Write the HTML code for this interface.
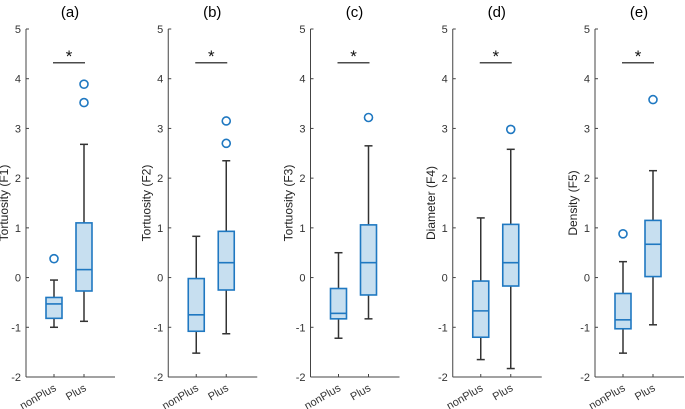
<!DOCTYPE html>
<html><head><meta charset="utf-8"><style>
html,body{margin:0;padding:0;background:#fff;}
svg{display:block;font-family:"Liberation Sans",Arial,sans-serif;}
</style></head><body>
<svg id="chart" width="685" height="409" viewBox="0 0 685 409"></svg>
<script>
const panelLetters = ["(a)","(b)","(c)","(d)","(e)"];
const yTitles = ["Tortuosity (F1)","Tortuosity (F2)","Tortuosity (F3)","Diameter (F4)","Density (F5)"];
const categories = ["nonPlus","Plus"];
const yTicks = [-2,-1,0,1,2,3,4,5];
// each: [lowerWhisker, q1, median, q3, upperWhisker]
const nonPlusStats = [
  [-1.0,-0.82,-0.53,-0.4,-0.05],
  [-1.52,-1.08,-0.75,-0.02,0.83],
  [-1.22,-0.83,-0.72,-0.22,0.5],
  [-1.65,-1.2,-0.67,-0.07,1.2],
  [-1.52,-1.03,-0.85,-0.32,0.32]
];
const plusStats = [
  [-0.88,-0.27,0.16,1.1,2.68],
  [-1.13,-0.25,0.3,0.93,2.35],
  [-0.83,-0.35,0.3,1.06,2.65],
  [-1.83,-0.17,0.3,1.07,2.58],
  [-0.95,0.02,0.67,1.15,2.15]
];
const nonPlusOutliers = [[0.38],[],[],[],[0.88]];
const plusOutliers = [[3.52,3.89],[2.7,3.15],[3.22],[2.98],[3.58]];
const sigLevel = [4.32,4.32,4.32,4.32,4.32];

const svg = document.getElementById('chart');
const NS = 'http://www.w3.org/2000/svg';
function mk(tag, attrs, parent){
  const e = document.createElementNS(NS, tag);
  for (const k in attrs) e.setAttribute(k, attrs[k]);
  (parent||svg).appendChild(e);
  return e;
}
const yTop = 29, yBot = 377, yMin = -2, yMax = 5;
function yS(v){ return yBot - (v - yMin) / (yMax - yMin) * (yBot - yTop); }
const axisX0 = 26, panelStep = 142.25, axisW = 89;
const catOffsets = [28, 58];
const boxW = 16;
const blue = '#1f78c1', fill = '#c7dff0', dark = '#333';

for (let p = 0; p < 5; p++) {
  const ax = axisX0 + p * panelStep;
  const g = mk('g', {});
  
  
  function xS(i){ return ax + catOffsets[i]; }
  const t = mk('text', {x: ax + 44, y: 17, 'font-size': 15, 'text-anchor': 'middle', fill: '#000'}, g);
  t.textContent = panelLetters[p];
  
  
  const yl = mk('line', {x1: ax, y1: yTop, x2: ax, y2: yBot, stroke: '#444', 'stroke-width': 1}, g);
  
  
  const xl = mk('line', {x1: ax, y1: yBot, x2: ax + axisW, y2: yBot, stroke: '#444', 'stroke-width': 1}, g);
  
  
  yTicks.forEach(v => {
    const y = yS(v);
    mk('line', {x1: ax, y1: y, x2: ax + 3, y2: y, stroke: '#444'}, g);
    const tl = mk('text', {x: ax - 5, y: y + 4, 'font-size': 11, 'text-anchor': 'end', fill: '#333'}, g);
    tl.textContent = v;
    
    
  });
  const yt = mk('text', {x: 0, y: 0, 'font-size': 12, 'text-anchor': 'middle', fill: '#222',
    transform: `translate(${ax - 18},${yS(1.5)}) rotate(-90)`}, g);
  yt.textContent = yTitles[p];
  
  
  categories.forEach((c, i) => {
    const x = xS(i);
    mk('line', {x1: x, y1: yBot, x2: x, y2: yBot - 3, stroke: '#444'}, g);
    const cl = mk('text', {x: 0, y: 0, 'font-size': 11, 'text-anchor': 'end', fill: '#333',
      transform: `translate(${x + 3},${yBot + 13}) rotate(-30)`}, g);
    cl.textContent = c;
    
    
    const s = i === 0 ? nonPlusStats[p] : plusStats[p];
    const outs = i === 0 ? nonPlusOutliers[p] : plusOutliers[p];
    mk('line', {x1: x, y1: yS(s[0]), x2: x, y2: yS(s[1]), stroke: dark, 'stroke-width': 1.5}, g);
    mk('line', {x1: x, y1: yS(s[3]), x2: x, y2: yS(s[4]), stroke: dark, 'stroke-width': 1.5}, g);
    mk('line', {x1: x - 4, y1: yS(s[0]), x2: x + 4, y2: yS(s[0]), stroke: dark, 'stroke-width': 1.5}, g);
    mk('line', {x1: x - 4, y1: yS(s[4]), x2: x + 4, y2: yS(s[4]), stroke: dark, 'stroke-width': 1.5}, g);
    const b = mk('rect', {x: x - boxW / 2, y: yS(s[3]), width: boxW, height: yS(s[1]) - yS(s[3]),
      fill: fill, stroke: blue, 'stroke-width': 1.6}, g);
    
    
    mk('line', {x1: x - boxW / 2, y1: yS(s[2]), x2: x + boxW / 2, y2: yS(s[2]), stroke: blue, 'stroke-width': 1.6}, g);
    outs.forEach(o => {
      const oc = mk('circle', {cx: x, cy: yS(o), r: 4, fill: 'none', stroke: blue, 'stroke-width': 1.6}, g);
      
      
    });
  });
  const sy = yS(sigLevel[p]);
  const sl = mk('line', {x1: xS(0) - 1, y1: sy, x2: xS(1) + 1, y2: sy, stroke: '#111', 'stroke-width': 1.2}, g);
  
  
  const st = mk('text', {x: (xS(0) + xS(1)) / 2, y: sy - 1, 'font-size': 17, 'text-anchor': 'middle', fill: '#111'}, g);
  st.textContent = '*';
  
  
}
</script>
</body></html>
